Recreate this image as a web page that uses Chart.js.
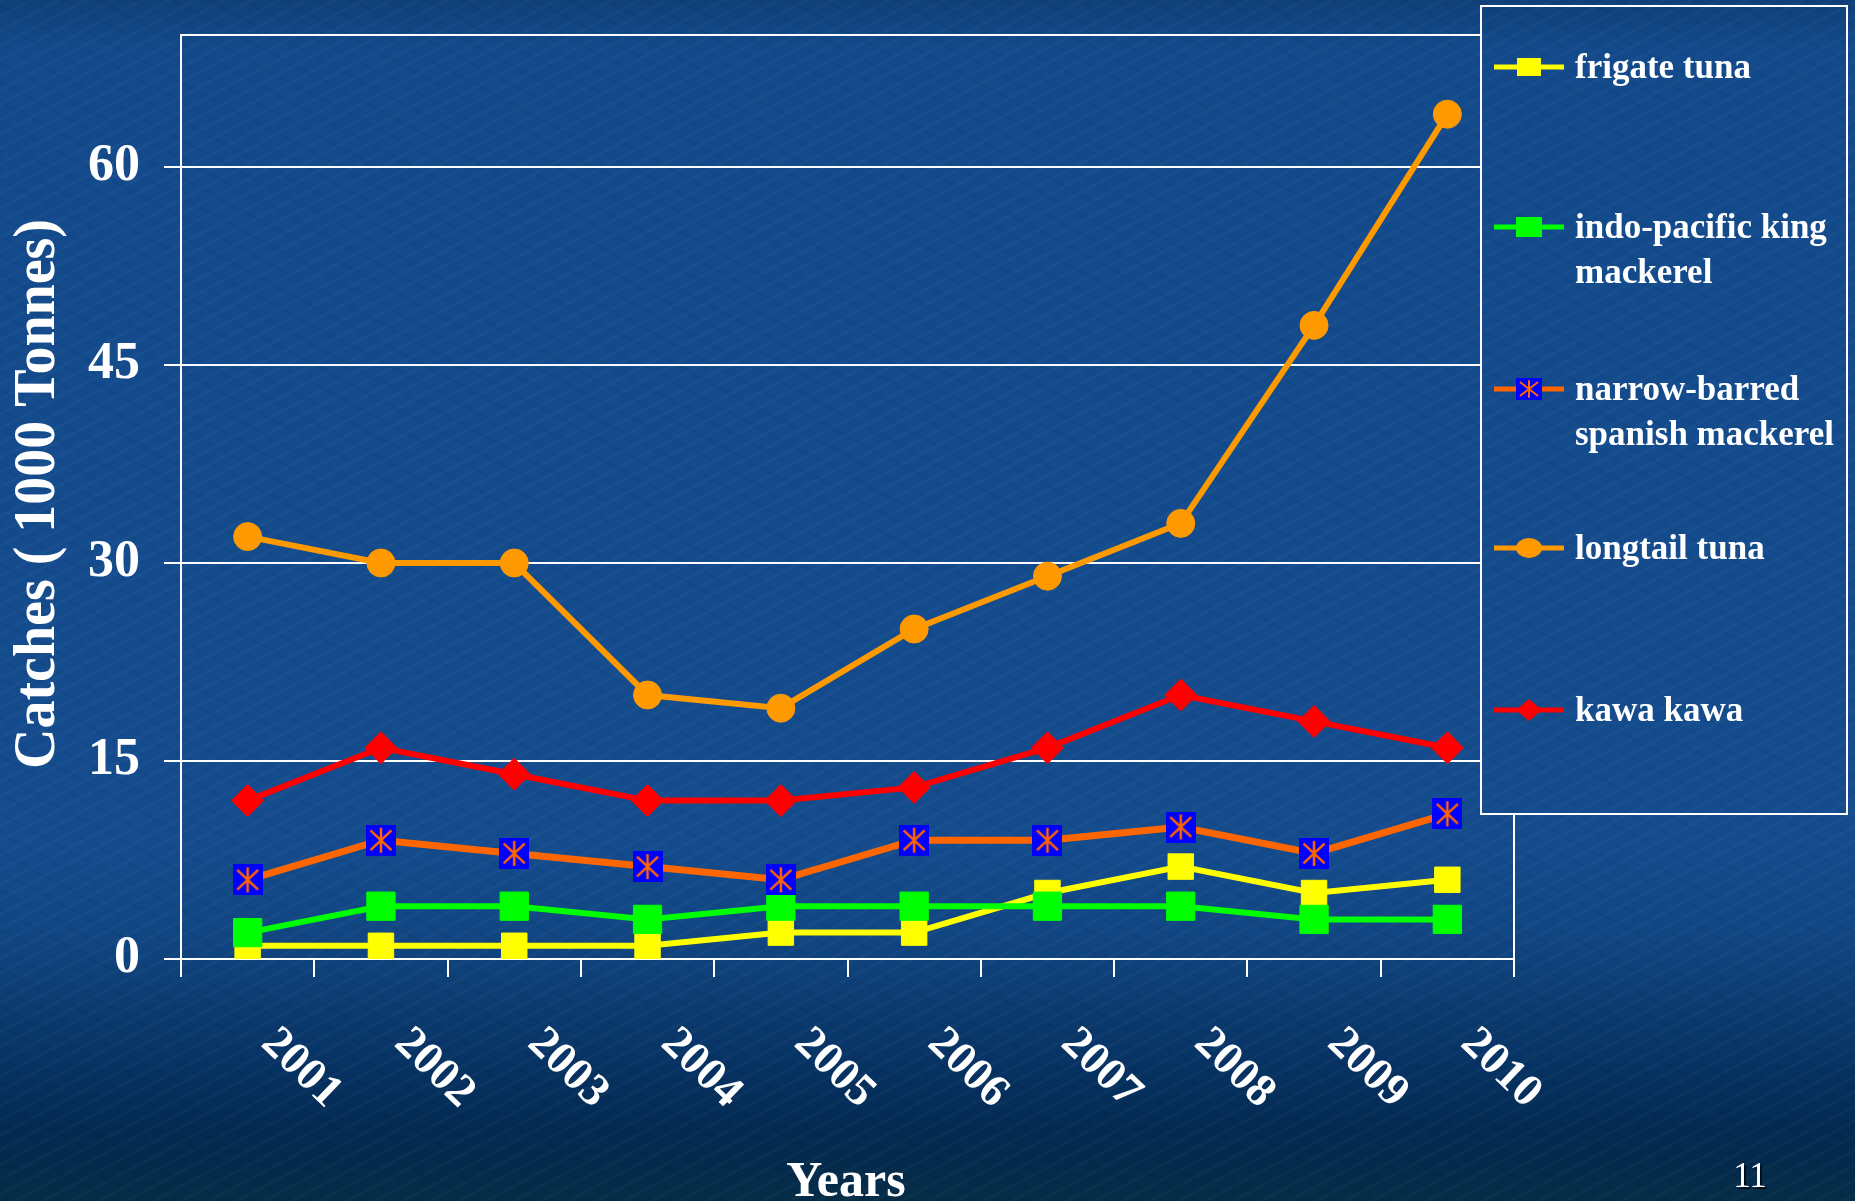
<!DOCTYPE html>
<html>
<head>
<meta charset="utf-8">
<script src="https://cdn.jsdelivr.net/npm/chart.js@4.4.1/dist/chart.umd.min.js"></script>
<style>
html, body { margin: 0; padding: 0; width: 1855px; height: 1201px; overflow: hidden; }
body {
  background:
    repeating-linear-gradient(152deg, rgba(255,255,255,0.025) 0px, rgba(255,255,255,0.025) 3px, rgba(0,0,0,0) 3px, rgba(0,0,0,0) 13px),
    repeating-linear-gradient(28deg, rgba(0,0,0,0.03) 0px, rgba(0,0,0,0.03) 4px, rgba(0,0,0,0) 4px, rgba(0,0,0,0) 17px),
    linear-gradient(180deg, #0f4079 0%, #134a8b 4%, #144c8e 70%, #114683 78%, #0b3b70 84%, #063262 89%, #032a52 94%, #052c47 100%);
}
#wrap { position: relative; width: 1855px; height: 1201px; }
canvas { display: block; }
</style>
</head>
<body>
<div id="wrap"><canvas id="c" width="1855" height="1201"></canvas></div>
<script>
// ---- data ----
const years = ['2001', '2002', '2003', '2004', '2005', '2006', '2007', '2008', '2009', '2010'];
const frigateTuna = [1, 1, 1, 1, 2, 2, 5, 7, 5, 6];
const indoPacificKingMackerel = [2, 4, 4, 3, 4, 4, 4, 4, 3, 3];
const narrowBarredSpanishMackerel = [6, 9, 8, 7, 6, 9, 9, 10, 8, 11];
const longtailTuna = [32, 30, 30, 20, 19, 25, 29, 33, 48, 64];
const kawaKawa = [12, 16, 14, 12, 12, 13, 16, 20, 18, 16];
const yTickValues = [0, 15, 30, 45, 60];
const yMin = 0;
const yMax = 70;
const seriesLabels = [
  ['frigate tuna'],
  ['indo-pacific king', 'mackerel'],
  ['narrow-barred', 'spanish mackerel'],
  ['longtail tuna'],
  ['kawa kawa']
];
const yTitle = 'Catches ( 1000 Tonnes)';
const xTitle = 'Years';
const pageNumber = '11';

// ---- styles ----
const SERIF = "'Liberation Serif', 'Times New Roman', serif";
const LEG = { x: 1481, y: 6, w: 366, h: 808 };

function makeAsterisk(w, h, lw) {
  const c = document.createElement('canvas');
  c.width = w; c.height = h;
  const g = c.getContext('2d');
  g.fillStyle = '#0000ff';
  g.fillRect(0, 0, w, h);
  g.strokeStyle = '#ff6600';
  g.lineWidth = lw;
  const cx = w / 2;
  g.beginPath();
  g.moveTo(cx, h * 0.1); g.lineTo(cx, h * 0.9);
  g.moveTo(w * 0.15, h * 0.18); g.lineTo(w * 0.85, h * 0.82);
  g.moveTo(w * 0.85, h * 0.18); g.lineTo(w * 0.15, h * 0.82);
  g.stroke();
  return c;
}
const asteriskPoint = makeAsterisk(30, 31, 2.5);
const asteriskLegend = makeAsterisk(26, 22, 2);

const seriesStyles = [
  { color: '#ffff00', point: 'rect', radius: 18, width: 6, order: 5 },
  { color: '#00ff00', point: 'rect', radius: 20, width: 6, order: 4 },
  { color: '#ff6600', point: asteriskPoint, radius: 15, width: 7, order: 3 },
  { color: '#ff9900', point: 'circle', radius: 14, width: 6, order: 2 },
  { color: '#ff0000', point: 'rectRot', radius: 16, width: 6, order: 1 }
];
const seriesData = [frigateTuna, indoPacificKingMackerel, narrowBarredSpanishMackerel, longtailTuna, kawaKawa];

const datasets = seriesData.map((d, i) => ({
  label: seriesLabels[i].join(' '),
  data: d,
  borderColor: seriesStyles[i].color,
  backgroundColor: seriesStyles[i].color,
  pointBackgroundColor: seriesStyles[i].color,
  pointBorderColor: seriesStyles[i].color,
  pointStyle: seriesStyles[i].point,
  pointRadius: seriesStyles[i].radius,
  pointBorderWidth: 1,
  borderWidth: seriesStyles[i].width,
  tension: 0,
  order: seriesStyles[i].order,
  clip: false
}));

const legendClip = {
  id: 'legendClip',
  beforeDraw(chart) {
    const ctx = chart.ctx;
    ctx.save();
    ctx.beginPath();
    ctx.rect(0, 0, chart.width, chart.height);
    ctx.rect(LEG.x, LEG.y, LEG.w, LEG.h);
    ctx.clip('evenodd');
  },
  beforeDatasetsDraw(chart) {
    const ctx = chart.ctx;
    const a = chart.chartArea;
    ctx.save();
    ctx.strokeStyle = '#ffffff';
    ctx.lineWidth = 2;
    ctx.beginPath();
    ctx.moveTo(a.left, a.top);
    ctx.lineTo(a.right, a.top);
    ctx.lineTo(a.right, a.bottom);
    ctx.stroke();
    ctx.restore();
  },
  afterDraw(chart) {
    chart.ctx.restore();
  }
};

const textPlugin = {
  id: 'texts',
  afterDraw(chart) {
    const ctx = chart.ctx;
    const xs = chart.scales.x;
    const a = chart.chartArea;
    ctx.save();
    ctx.fillStyle = '#ffffff';

    // x tick labels (rotated clockwise)
    ctx.font = 'bold 46px ' + SERIF;
    ctx.textAlign = 'left';
    ctx.textBaseline = 'alphabetic';
    years.forEach((y, i) => {
      const px = xs.getPixelForValue(i);
      ctx.save();
      ctx.translate(px + 12, a.bottom + 86);
      ctx.rotate(44 * Math.PI / 180);
      ctx.fillText(y, 0, 0);
      ctx.restore();
    });

    // y axis title
    ctx.save();
    ctx.font = 'bold 60px ' + SERIF;
    const tw = ctx.measureText(yTitle).width;
    ctx.translate(38, 494);
    ctx.rotate(-Math.PI / 2);
    ctx.scale(550 / tw, 1);
    ctx.textAlign = 'center';
    ctx.textBaseline = 'middle';
    ctx.fillText(yTitle, 0, 0);
    ctx.restore();

    // x axis title
    ctx.font = 'bold 50px ' + SERIF;
    ctx.textAlign = 'center';
    ctx.textBaseline = 'alphabetic';
    ctx.fillText(xTitle, 846, 1196);

    // page number
    ctx.save();
    ctx.font = '35px ' + SERIF;
    ctx.shadowColor = 'rgba(0,0,0,0.7)';
    ctx.shadowOffsetX = 2;
    ctx.shadowOffsetY = 2;
    ctx.fillText(pageNumber, 1750, 1187);
    ctx.restore();

    // legend
    ctx.strokeStyle = '#ffffff';
    ctx.lineWidth = 2;
    ctx.strokeRect(LEG.x, LEG.y, LEG.w, LEG.h);
    const rowY = [67, 227, 389, 548, 710];
    seriesLabels.forEach((lines, i) => {
      const st = seriesStyles[i];
      const y = rowY[i];
      ctx.strokeStyle = st.color;
      ctx.lineWidth = 5;
      ctx.beginPath();
      ctx.moveTo(1494, y);
      ctx.lineTo(1564, y);
      ctx.stroke();
      ctx.fillStyle = st.color;
      const mx = 1529;
      if (i === 0) {
        ctx.fillRect(mx - 12, y - 9, 24, 18);
      } else if (i === 1) {
        ctx.fillRect(mx - 13, y - 10, 26, 20);
      } else if (i === 2) {
        ctx.drawImage(asteriskLegend, mx - 13, y - 11);
      } else if (i === 3) {
        ctx.beginPath();
        ctx.ellipse(mx, y, 13, 10, 0, 0, Math.PI * 2);
        ctx.fill();
      } else {
        ctx.beginPath();
        ctx.moveTo(mx - 13, y);
        ctx.lineTo(mx, y - 11);
        ctx.lineTo(mx + 13, y);
        ctx.lineTo(mx, y + 11);
        ctx.closePath();
        ctx.fill();
      }
      ctx.fillStyle = '#ffffff';
      ctx.font = 'bold 35px ' + SERIF;
      ctx.textAlign = 'left';
      ctx.textBaseline = 'middle';
      lines.forEach((t, j) => ctx.fillText(t, 1575, y + 2 + j * 45));
    });
    ctx.restore();
  }
};

new Chart(document.getElementById('c'), {
  type: 'line',
  data: { labels: years, datasets },
  options: {
    responsive: false,
    devicePixelRatio: 1,
    animation: false,
    events: [],
    layout: { padding: { left: 0, top: 35, right: 341, bottom: 0 } },
    plugins: { legend: { display: false }, tooltip: { enabled: false }, title: { display: false } },
    scales: {
      x: {
        type: 'category',
        offset: true,
        afterFit(s) { s.height = 242; s.paddingLeft = 0; s.paddingRight = 0; },
        grid: { offset: true, drawOnChartArea: false, drawTicks: true, tickLength: 18, color: '#ffffff', lineWidth: 2 },
        border: { display: true, color: '#ffffff', width: 2 },
        ticks: { display: false }
      },
      y: {
        min: yMin,
        max: yMax,
        afterFit(s) { s.width = 181; s.paddingTop = 0; s.paddingBottom = 0; },
        afterBuildTicks(s) { s.ticks = yTickValues.map(v => ({ value: v })); },
        grid: { color: '#ffffff', lineWidth: 2, tickLength: 17, drawTicks: true },
        border: { display: true, color: '#ffffff', width: 2 },
        ticks: { color: '#ffffff', padding: 24, font: { family: SERIF, size: 52, weight: 'bold' } }
      }
    }
  },
  plugins: [legendClip, textPlugin]
});
</script>
</body>
</html>
